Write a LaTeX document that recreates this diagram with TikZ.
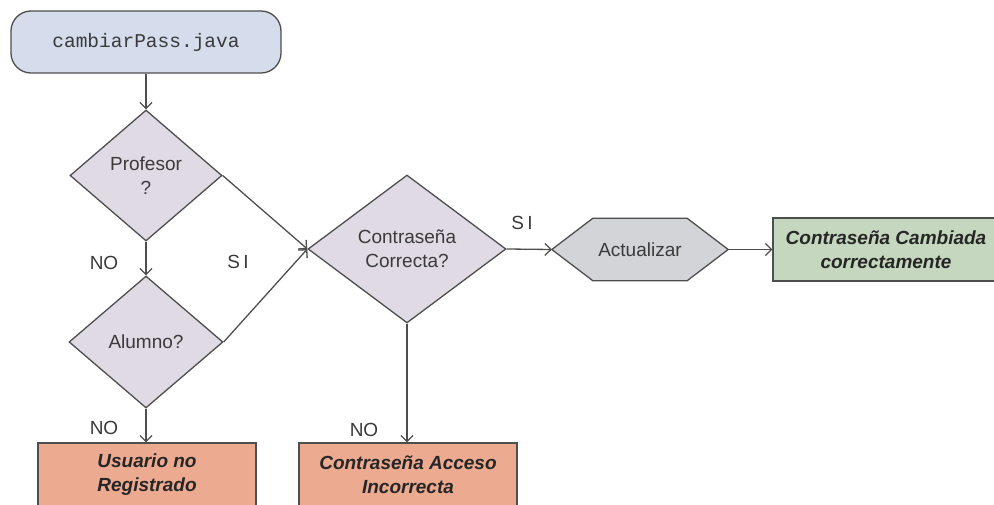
\documentclass[tikz,border=0pt]{standalone}
\usepackage{fontspec}
\setmainfont{Liberation Sans}
\setmonofont{Liberation Mono}
\usetikzlibrary{shapes.geometric,arrows.meta,backgrounds}

\definecolor{edgegray}{HTML}{4E4E4E}
\definecolor{txtgray}{HTML}{3A3A3A}
\definecolor{startfill}{HTML}{D5DCEC}
\definecolor{decfill}{HTML}{E0DAE4}
\definecolor{hexfill}{HTML}{D3D4D8}
\definecolor{errfill}{HTML}{ECAA91}
\definecolor{okfill}{HTML}{C5D7BE}

\tikzset{
  every node/.style={font=\fontsize{19}{24}\selectfont, text=txtgray, align=center},
  startbox/.style={draw=edgegray, line width=1.3pt, fill=startfill, rounded corners=20pt,
    minimum width=270pt, minimum height=62pt, font=\ttfamily\fontsize{19.5}{24}\selectfont},
  decision/.style={draw=edgegray, line width=1.3pt, fill=decfill, diamond, inner sep=0pt},
  endbox/.style={draw=edgegray, line width=1.3pt, minimum height=63pt,
    font=\bfseries\itshape\fontsize{19}{24}\selectfont, text=black!85},
  arr/.style={draw=edgegray, line width=1.3pt, -{Straight Barb[length=6pt,width=12pt]}},
  lbl/.style={font=\fontsize{19}{24}\selectfont, text=txtgray}
}

\begin{document}
\begin{tikzpicture}[x=1pt,y=-1pt]
\useasboundingbox (0,0) rectangle (994,505);

% start terminal
\node[startbox] (start) at (146,42) {cambiarPass.java};

% decisions
\node[decision, minimum width=152pt, minimum height=131pt] (prof) at (146,175.5) {Profesor\\?};
\node[decision, minimum width=154pt, minimum height=132pt] (alum) at (146,342) {Alumno?};
\node[decision, minimum width=198pt, minimum height=148pt] (pass) at (407,249) {Contraseña\\Correcta?};

% process (hexagon drawn behind its text)
\node[minimum width=176pt, minimum height=62pt, inner sep=0pt] (act) at (640,249.5) {Actualizar};
\begin{scope}[on background layer]
  \path[draw=edgegray, line width=1.3pt, fill=hexfill]
    (act.west) -- ([xshift=41pt]act.north west) -- ([xshift=-41pt]act.north east)
    -- (act.east) -- ([xshift=-41pt]act.south east) -- ([xshift=41pt]act.south west) -- cycle;
\end{scope}

% outcomes
\node[endbox, fill=errfill, minimum width=218pt] (usr) at (147,474.5) {Usuario no\\Registrado};
\node[endbox, fill=errfill, minimum width=218pt] (bad) at (408,474.5) {Contraseña Acceso\\Incorrecta};
\node[endbox, fill=okfill, minimum width=226pt] (ok) at (886,249.5) {Contraseña Cambiada\\correctamente};

% connectors
\draw[arr] (start.south) -- (prof.north);
\draw[arr] (prof.south) -- (alum.north);
\draw[arr] (alum.south) -- (alum.south |- usr.north);
\draw[arr] (prof.east) -- (pass.west);
\draw[arr] (alum.east) -- (pass.west);
\draw[arr] (pass.east) -- (act.west);
\draw[arr] (act.east) -- (ok.west);
\draw[arr] (pass.south) -- (pass.south |- bad.north);

% branch labels
\node[lbl] (no1) at (104,263) {NO};
\node[lbl] (no2) at (104,428) {NO};
\node[lbl] (no3) at (364,430) {NO};
\node[lbl] (si1) at (238,262) {S\,I};
\node[lbl] (si2) at (522,223) {S\,I};
\end{tikzpicture}
\end{document}
